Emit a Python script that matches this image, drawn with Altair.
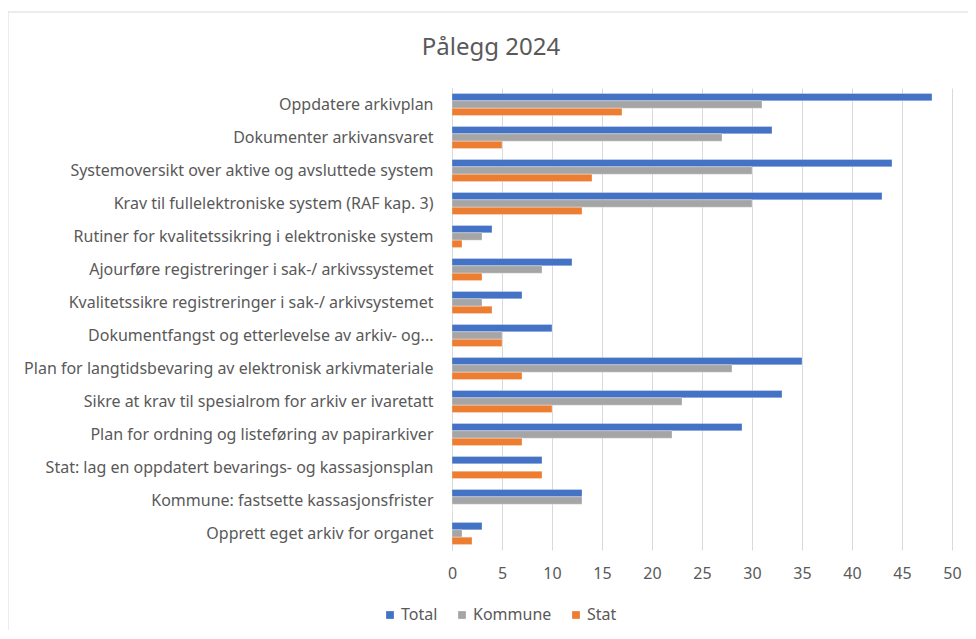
import altair as alt
import pandas as pd

categories = [
    "Oppdatere arkivplan",
    "Dokumenter arkivansvaret",
    "Systemoversikt over aktive og avsluttede system",
    "Krav til fullelektroniske system (RAF kap. 3)",
    "Rutiner for kvalitetssikring i elektroniske system",
    "Ajourføre registreringer i sak-/ arkivssystemet",
    "Kvalitetssikre registreringer i sak-/ arkivsystemet",
    "Dokumentfangst og etterlevelse av arkiv- og...",
    "Plan for langtidsbevaring av elektronisk arkivmateriale",
    "Sikre at krav til spesialrom for arkiv er ivaretatt",
    "Plan for ordning og listeføring av papirarkiver",
    "Stat: lag en oppdatert bevarings- og kassasjonsplan",
    "Kommune: fastsette kassasjonsfrister",
    "Opprett eget arkiv for organet",
]
total = [48, 32, 44, 43, 4, 12, 7, 10, 35, 33, 29, 9, 13, 3]
kommune = [31, 27, 30, 30, 3, 9, 3, 5, 28, 23, 22, 0, 13, 1]
stat = [17, 5, 14, 13, 1, 3, 4, 5, 7, 10, 7, 9, 0, 2]

series = ["Total", "Kommune", "Stat"]
colors = ["#4472C4", "#A5A5A5", "#ED7D31"]
x_ticks = [0, 5, 10, 15, 20, 25, 30, 35, 40, 45, 50]

rows = []
for i, c in enumerate(categories):
    for s, vals in zip(series, [total, kommune, stat]):
        rows.append({"Kategori": c, "Serie": s, "Verdi": vals[i]})
df = pd.DataFrame(rows)

FONT = "Noto Sans"
GRAY = "#595959"

bars = alt.Chart(df).mark_bar(stroke="white", strokeWidth=0.6, strokeOpacity=0.5).encode(
    y=alt.Y("Kategori:N", sort=categories,
            scale=alt.Scale(paddingInner=0.33, paddingOuter=0.165),
            axis=alt.Axis(title=None, labelFontSize=16, labelColor=GRAY, labelFont=FONT,
                          labelLimit=600, labelPadding=19, ticks=False, domain=True,
                          domainColor="#d9d9d9", grid=False)),
    yOffset=alt.YOffset("Serie:N", sort=series, scale=alt.Scale(paddingInner=0, paddingOuter=0)),
    x=alt.X("Verdi:Q", scale=alt.Scale(domain=[0, 50], nice=False),
            axis=alt.Axis(title=None, values=x_ticks, labelFontSize=16, labelColor=GRAY,
                          labelFont=FONT, labelPadding=15, ticks=False, domain=False,
                          labelFlush=False,
                          grid=True, gridColor="#d9d9d9", gridWidth=1)),
    color=alt.Color("Serie:N", sort=series,
                    scale=alt.Scale(domain=series, range=colors),
                    legend=alt.Legend(title=None, orient="none", legendX=-70, legendY=519,
                                      direction="horizontal", symbolType="square",
                                      symbolSize=60, labelFontSize=16, labelColor=GRAY,
                                      labelFont=FONT, columnPadding=16, symbolStrokeWidth=0,
                                      labelOffset=3)),
)

border = alt.Chart(alt.Data(values=[{}])).mark_rect(
    fill=None, stroke="#d9d9d9", strokeWidth=1
).encode(
    x=alt.value(-444), x2=alt.value(560),
    y=alt.value(-76), y2=alt.value(620),
)

chart = alt.layer(border, bars).properties(
    width=500, height=462,
    padding={"left": 444, "top": 80, "right": 16, "bottom": 80},
    autosize="none",
    title=alt.TitleParams("Pålegg 2024", fontSize=24, font=FONT, color=GRAY,
                          fontWeight="normal", anchor="middle", frame="group",
                          dx=-211, offset=0, dy=48),
).configure_view(stroke=None)

chart.save("out.html", embed_options={"renderer": "svg", "actions": False})
